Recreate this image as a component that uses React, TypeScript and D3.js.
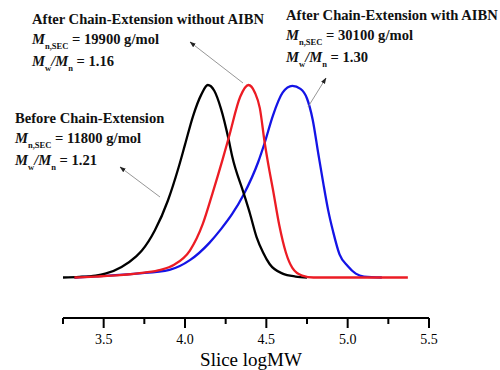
import React, { useEffect, useRef } from 'react';
import * as d3 from 'd3';

// Slice logMW vs normalized signal
const beforeX = [3.25, 3.35, 3.45, 3.51, 3.61, 3.7, 3.735, 3.815, 3.895, 3.96, 4.0, 4.05, 4.1, 4.14, 4.18, 4.22, 4.27, 4.29, 4.36, 4.4, 4.44, 4.48, 4.52, 4.6, 4.68, 4.75];
const beforeY = [0, 0.003, 0.01, 0.02, 0.055, 0.11, 0.14, 0.245, 0.4, 0.57, 0.69, 0.84, 0.95, 1.0, 0.97, 0.88, 0.71, 0.63, 0.44, 0.33, 0.21, 0.13, 0.07, 0.02, 0.005, 0];

const noAibnX = [3.32, 3.45, 3.6, 3.75, 3.85, 3.93, 4.03, 4.11, 4.17, 4.23, 4.27, 4.34, 4.39, 4.43, 4.46, 4.49, 4.52, 4.54, 4.58, 4.62, 4.66, 4.72, 4.79, 5.37];
const noAibnY = [0, 0.005, 0.012, 0.025, 0.04, 0.065, 0.14, 0.28, 0.44, 0.61, 0.73, 0.94, 1.0, 0.96, 0.88, 0.7, 0.55, 0.46, 0.27, 0.13, 0.05, 0.01, 0, 0];

const withAibnX = [3.32, 3.5, 3.7, 3.905, 4.03, 4.15, 4.22, 4.29, 4.36, 4.45, 4.49, 4.54, 4.6, 4.66, 4.71, 4.75, 4.785, 4.82, 4.85, 4.88, 4.91, 4.95, 5.0, 5.05, 5.1, 5.21];
const withAibnY = [0, 0.008, 0.02, 0.04, 0.09, 0.18, 0.25, 0.33, 0.43, 0.6, 0.7, 0.84, 0.96, 0.995, 0.98, 0.93, 0.82, 0.64, 0.49, 0.35, 0.24, 0.12, 0.06, 0.02, 0.005, 0];

const majorTicks = [3.5, 4.0, 4.5, 5.0, 5.5];
const minorTicks = [3.25, 3.75, 4.25, 4.75, 5.25];

const titles = ['Before Chain-Extension', 'After Chain-Extension without AIBN', 'After Chain-Extension with AIBN'];
const mnValues = ['11800', '19900', '30100'];
const pdiValues = ['1.21', '1.16', '1.30'];

const App = () => {
  const ref = useRef<SVGSVGElement>(null);

  useEffect(() => {
    if (!ref.current) return;
    const svg = d3.select(ref.current);
    svg.selectAll('*').remove();

    const x = d3.scaleLinear().domain([3.25, 5.5]).range([63, 429]);
    const y = d3.scaleLinear().domain([0, 1]).range([277.5, 85]);

    svg.append('defs').append('marker')
      .attr('id', 'arr')
      .attr('viewBox', '0 0 10 10')
      .attr('refX', 9).attr('refY', 5)
      .attr('markerWidth', 7).attr('markerHeight', 7)
      .attr('orient', 'auto')
      .append('path').attr('d', 'M0,1.5 L10,5 L0,8.5 Z').attr('fill', '#222');

    const line = d3.line<[number, number]>()
      .x(d => x(d[0]))
      .y(d => y(d[1]))
      .curve(d3.curveMonotoneX);

    const series = [
      { xs: withAibnX, ys: withAibnY, color: '#1414e6' },
      { xs: beforeX, ys: beforeY, color: '#000' },
      { xs: noAibnX, ys: noAibnY, color: '#ec1c24' },
    ];
    series.forEach(s => {
      const pts = s.xs.map((v, i) => [v, s.ys[i]] as [number, number]);
      svg.append('path')
        .attr('d', line(pts))
        .attr('fill', 'none')
        .attr('stroke', s.color)
        .attr('stroke-width', 2.3)
        .attr('stroke-linejoin', 'round');
    });

    // axis
    const axisY = 318;
    const ax = svg.append('g');
    ax.append('line')
      .attr('x1', x(3.25)).attr('x2', x(5.5))
      .attr('y1', axisY).attr('y2', axisY)
      .attr('stroke', '#000').attr('stroke-width', 2);
    majorTicks.forEach(t => {
      ax.append('line').attr('x1', x(t)).attr('x2', x(t)).attr('y1', axisY).attr('y2', axisY + 10)
        .attr('stroke', '#000').attr('stroke-width', 2);
      ax.append('text').attr('x', x(t)).attr('y', axisY + 26)
        .attr('text-anchor', 'middle')
        .style('font-family', '"Liberation Serif", "Times New Roman", serif')
        .style('font-size', '14px')
        .text(d3.format('.1f')(t));
    });
    minorTicks.forEach(t => {
      ax.append('line').attr('x1', x(t)).attr('x2', x(t)).attr('y1', axisY).attr('y2', axisY + 6)
        .attr('stroke', '#000').attr('stroke-width', 2);
    });
    svg.append('text').attr('x', 251).attr('y', 366)
      .attr('text-anchor', 'middle')
      .style('font-family', '"Liberation Serif", "Times New Roman", serif')
      .style('font-size', '19px')
      .text('Slice logMW');

    // annotations
    const blocks = [
      { x: 15, y: 123 },
      { x: 32, y: 24 },
      { x: 286, y: 20 },
    ];
    blocks.forEach((b, i) => {
      const g = svg.append('g')
        .style('font-family', '"Liberation Serif", "Times New Roman", serif')
        .style('font-weight', 'bold')
        .style('font-size', '14.6px')
        .attr('fill', '#111');
      g.append('text').attr('x', b.x).attr('y', b.y).text(titles[i]);
      const t2 = g.append('text').attr('x', b.x).attr('y', b.y + 20);
      t2.append('tspan').style('font-style', 'italic').text('M');
      t2.append('tspan').attr('dy', 5).style('font-size', '8.5px').text('n,SEC');
      t2.append('tspan').attr('dy', -5).text(` = ${mnValues[i]} g/mol`);
      const t3 = g.append('text').attr('x', b.x).attr('y', b.y + 42);
      t3.append('tspan').style('font-style', 'italic').text('M');
      t3.append('tspan').attr('dy', 5).style('font-size', '8.5px').text('w');
      t3.append('tspan').attr('dy', -5).style('font-style', 'italic').text('/M');
      t3.append('tspan').attr('dy', 5).style('font-size', '8.5px').text('n');
      t3.append('tspan').attr('dy', -5).text(` = ${pdiValues[i]}`);
    });

    const arrows = [
      [160, 197, 120, 167],
      [243, 83, 190, 42],
      [308, 107, 326, 78],
    ];
    arrows.forEach(a => {
      svg.append('line')
        .attr('x1', a[0]).attr('y1', a[1]).attr('x2', a[2]).attr('y2', a[3])
        .attr('stroke', '#8a8a8a').attr('stroke-width', 0.9)
        .attr('marker-end', 'url(#arr)');
    });
  }, []);

  return <svg ref={ref} width={500} height={370} style={{ display: 'block', position: 'absolute', left: 0, top: 0, background: '#fff' }} />;
};

export default App;
